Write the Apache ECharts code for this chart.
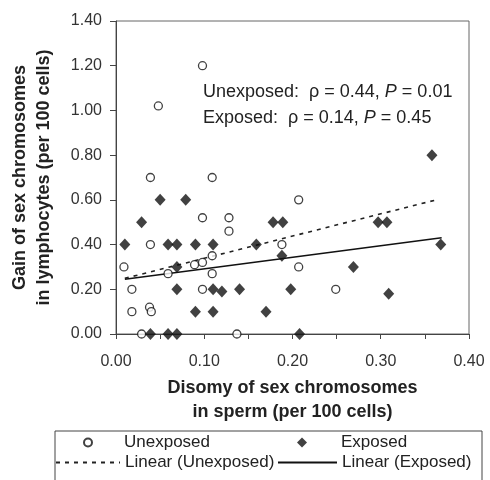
<!DOCTYPE html>
<html>
<head>
<meta charset="utf-8">
<script src="https://cdn.jsdelivr.net/npm/echarts@6/dist/echarts.min.js"></script>
<style>
html,body{margin:0;padding:0;background:#fff;}
#chart{width:490px;height:480px;}
</style>
</head>
<body>
<div id="chart"></div>
<script>
// Unexposed: [sperm disomy, lymphocyte gain]
var unexposedX = [0.098,0.048,0.039,0.109,0.098,0.128,0.128,0.039,0.188,0.207,0.009,0.109,0.098,0.089,0.059,0.109,0.207,0.018,0.098,0.249,0.018,0.038,0.040,0.029,0.137];
var unexposedY = [1.20,1.02,0.70,0.70,0.52,0.52,0.46,0.40,0.40,0.60,0.30,0.35,0.32,0.31,0.27,0.27,0.30,0.20,0.20,0.20,0.10,0.12,0.10,0.00,0.00];
var exposedX = [0.358,0.050,0.079,0.029,0.178,0.189,0.297,0.307,0.010,0.059,0.069,0.090,0.110,0.159,0.368,0.188,0.069,0.269,0.069,0.110,0.120,0.140,0.198,0.309,0.090,0.110,0.170,0.039,0.059,0.069,0.208];
var exposedY = [0.80,0.60,0.60,0.50,0.50,0.50,0.50,0.50,0.40,0.40,0.40,0.40,0.40,0.40,0.40,0.35,0.30,0.30,0.20,0.20,0.19,0.20,0.20,0.18,0.10,0.10,0.10,0.00,0.00,0.00,0.00];
var trendUnexposed = [[0.010,0.249],[0.365,0.602]];
var trendExposed = [[0.010,0.245],[0.369,0.430]];
var seriesNames = ['Unexposed','Exposed','Linear (Unexposed)','Linear (Exposed)'];
var xTitle = 'Disomy of sex chromosomes\nin sperm (per 100 cells)';
var yTitle = 'Gain of sex chromosomes\nin lymphocytes (per 100 cells)';
var annotation = 'Unexposed:  ρ = 0.44, {i|P} = 0.01\nExposed:  ρ = 0.14, {i|P} = 0.45';

function zip(xs, ys){ return xs.map(function(x,i){ return [x, ys[i]]; }); }

var FONT = 'Liberation Sans, Arial, sans-serif';
var chart = echarts.init(document.getElementById('chart'), null, {renderer:'canvas'});
function legendAt(name, left, top, w, h, padLeft){
  return {
    data:[name], left:left, top:top, itemWidth:w, itemHeight:h, padding:0,
    textStyle:{fontFamily:FONT, fontSize:17, color:'#222', padding:[0,0,0,padLeft]}, selectedMode:false
  };
}
chart.setOption({
  animation:false,
  backgroundColor:'#fff',
  grid:{left:116, right:21, top:21, bottom:146, show:true, borderColor:'#666', borderWidth:1},
  xAxis:{
    type:'value', min:0, max:0.4, interval:0.1,
    name:xTitle, nameLocation:'middle', nameGap:42,
    nameTextStyle:{fontFamily:FONT, fontSize:18, fontWeight:'bold', color:'#222', lineHeight:24},
    axisLine:{lineStyle:{color:'#444'}},
    axisTick:{show:true, length:5, lineStyle:{color:'#444'}},
    minorTick:{show:true, splitNumber:2, length:5, lineStyle:{color:'#444'}},
    splitLine:{show:false},
    axisLabel:{fontFamily:FONT, fontSize:16, color:'#333', margin:20, formatter:function(v){return v.toFixed(2);}}
  },
  yAxis:{
    type:'value', min:0, max:1.4, interval:0.2,
    name:yTitle, nameLocation:'middle', nameGap:60, nameRotate:90,
    nameTextStyle:{fontFamily:FONT, fontSize:18, fontWeight:'bold', color:'#222', lineHeight:24},
    axisLine:{show:true, lineStyle:{color:'#444'}},
    axisTick:{show:true, length:6, lineStyle:{color:'#444'}},
    splitLine:{show:false},
    axisLabel:{fontFamily:FONT, fontSize:16, color:'#333', margin:14, formatter:function(v){return v.toFixed(2);}}
  },
  legend:[
    legendAt(seriesNames[0], 83, 434, 8, 8, 27),
    legendAt(seriesNames[1], 297, 434, 10, 10, 29),
    legendAt(seriesNames[2], 55, 454, 64, 10, 0),
    legendAt(seriesNames[3], 277, 454, 59, 10, 0)
  ],
  graphic:[
    {type:'rect', shape:{x:55, y:431, width:427, height:70}, style:{fill:'none', stroke:'#444', lineWidth:1}, z:-1},
    {type:'text', x:203, y:79, style:{text:annotation, fontFamily:FONT, fontSize:18, fill:'#222', lineHeight:26,
      rich:{i:{fontStyle:'italic', fontFamily:FONT, fontSize:18, lineHeight:26, fill:'#222'}}}}
  ],
  series:[
    {name:seriesNames[0], type:'scatter', data:zip(unexposedX, unexposedY), symbol:'circle', symbolSize:8,
      itemStyle:{color:'#fff', borderColor:'#111', borderWidth:1.3}, z:3},
    {name:seriesNames[1], type:'scatter', data:zip(exposedX, exposedY), symbol:'diamond', symbolSize:[11,12],
      itemStyle:{color:'#111'}, z:4},
    {name:seriesNames[2], type:'line', data:trendUnexposed, symbol:'none', showSymbol:false,
      itemStyle:{color:'rgba(0,0,0,0)', borderWidth:0},
      lineStyle:{color:'#222', width:1.6, type:[4,5]}, z:2},
    {name:seriesNames[3], type:'line', data:trendExposed, symbol:'none', showSymbol:false,
      itemStyle:{color:'rgba(0,0,0,0)', borderWidth:0},
      lineStyle:{color:'#111', width:1.5, type:'solid'}, z:2}
  ]
});
</script>
</body>
</html>
